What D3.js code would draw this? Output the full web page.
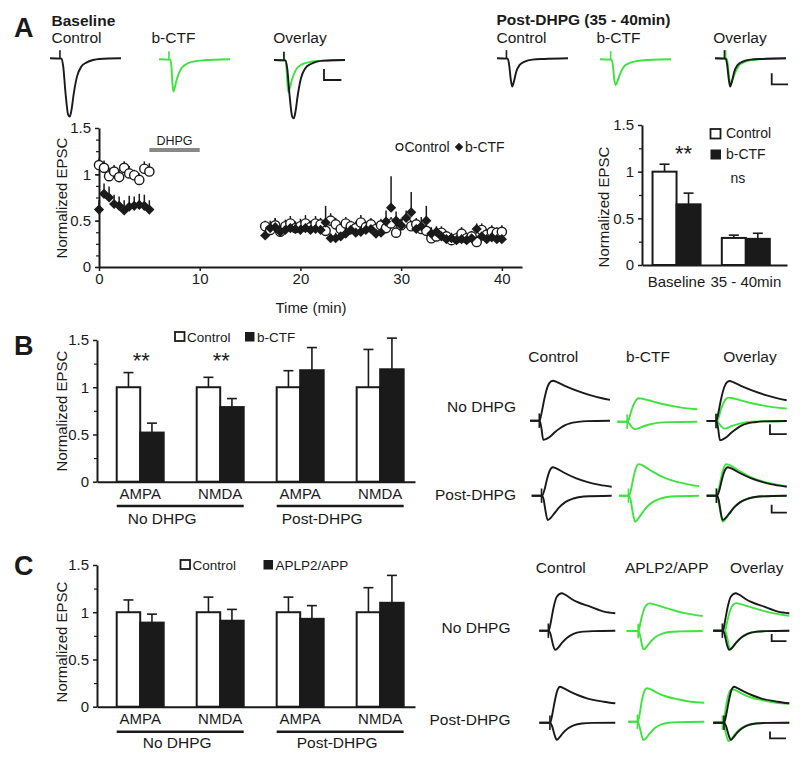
<!DOCTYPE html>
<html><head><meta charset="utf-8">
<script src="https://cdn.jsdelivr.net/npm/d3@7/dist/d3.min.js"></script>
<style>
body{margin:0;background:#fff;}
svg{display:block;}
</style></head><body>
<script>
// ================= DATA =================
// Panel A – time course (normalized EPSC, upper SEM)
const baseTimes = [0,0.5,1,1.5,2,2.5,3,3.5,4,4.5,5];
const ctlBase    = [1.10,1.07,0.98,1.03,0.97,1.07,1.01,0.99,0.94,1.06,1.03];
const ctlBaseErr = [0.07,0.08,0.09,0.07,0.08,0.07,0.08,0.06,0.07,0.08,0.09];
const ctfBase    = [0.62,0.79,0.75,0.68,0.66,0.61,0.65,0.66,0.67,0.66,0.62];
const ctfBaseErr = [0.10,0.11,0.12,0.10,0.10,0.11,0.12,0.10,0.12,0.12,0.10];
const postStart = 16.5, postEnd = 40, sampleInterval = 0.5;
const ctlPost = [0.44,0.40,0.45,0.38,0.44,0.47,0.42,0.44,0.47,0.43,
                 0.47,0.46,0.39,0.50,0.46,0.41,0.47,0.44,0.42,0.48,
                 0.43,0.46,0.41,0.45,0.42,0.47,0.37,0.45,0.48,0.44,
                 0.46,0.41,0.39,0.31,0.33,0.37,0.33,0.29,0.31,0.36,
                 0.31,0.33,0.27,0.40,0.35,0.38,0.37,0.38];
const ctlPostErr = [0.06,0.07,0.08,0.06,0.07,0.08,0.07,0.08,0.09,0.07,
                 0.08,0.07,0.06,0.08,0.07,0.06,0.07,0.06,0.07,0.08,
                 0.06,0.07,0.06,0.07,0.08,0.07,0.06,0.07,0.08,0.06,
                 0.07,0.06,0.07,0.05,0.06,0.07,0.06,0.05,0.06,0.07,
                 0.06,0.06,0.05,0.07,0.06,0.07,0.06,0.07];
const ctfPost = [0.34,0.42,0.43,0.38,0.40,0.42,0.41,0.40,0.42,0.40,
                 0.41,0.40,0.48,0.31,0.31,0.33,0.36,0.40,0.37,0.38,
                 0.40,0.41,0.36,0.37,0.49,0.64,0.50,0.45,0.53,0.59,
                 0.41,0.44,0.50,0.36,0.38,0.33,0.30,0.31,0.29,0.30,
                 0.29,0.31,0.41,0.33,0.30,0.32,0.30,0.30];
const ctfPostErr = [0.05,0.08,0.10,0.07,0.08,0.09,0.08,0.08,0.09,0.08,
                 0.09,0.08,0.18,0.05,0.06,0.06,0.07,0.08,0.07,0.07,
                 0.08,0.07,0.07,0.08,0.12,0.34,0.10,0.07,0.08,0.22,
                 0.08,0.10,0.16,0.07,0.06,0.06,0.05,0.06,0.05,0.06,
                 0.05,0.06,0.06,0.06,0.05,0.06,0.05,0.05];
const dhpgWindow = [5,10];
const timeTicks = [0,10,20,30,40];
const epscTicks = [0,0.5,1,1.5];

// Panel A – summary bars
const aGroups = ["Baseline","35 - 40min"];
const aSeries = ["Control","b-CTF"];
const aCtl = [1.00,0.29], aCtlErr = [0.08,0.03];
const aCtf = [0.65,0.28], aCtfErr = [0.12,0.06];

// Panels B/C – bars
const bcCats = ["AMPA","NMDA","AMPA","NMDA"];
const bcConds = ["No DHPG","Post-DHPG"];
const bCtl = [1,1,1,1],          bCtlErr = [0.155,0.105,0.175,0.40];
const bCtf = [0.52,0.79,1.18,1.19], bCtfErr = [0.10,0.09,0.24,0.33];
const cCtl = [1,1,1,1],          cCtlErr = [0.13,0.16,0.16,0.26];
const cApp = [0.89,0.91,0.93,1.10], cAppErr = [0.09,0.12,0.14,0.29];

// Example traces: [time (0-100 a.u.), amplitude (a.u.)]
const trA = {
  baseCtl: {art:14, pts:[[0,0],[16.3,-0.006],[18.6,-0.14],[21.9,-0.6],[25.6,-0.97],[27.9,-1],[30.2,-0.89],[33.5,-0.6],[38.1,-0.31],[44.2,-0.14],[51.2,-0.074],[60.5,-0.029],[69.8,-0.011],[100,0]]},
  baseCtf: {art:14, pts:[[0,0],[16,-0.006],[17.5,-0.126],[18.9,-0.41],[20.3,-0.554],[22.2,-0.48],[25.5,-0.326],[31.6,-0.154],[38.7,-0.08],[48.1,-0.04],[62.3,-0.017],[100,0]]},
  postCtl: {art:13.3, pts:[[0,0],[15.2,-0.006],[17.1,-0.114],[19.5,-0.37],[21.4,-0.486],[23.8,-0.4],[27.1,-0.229],[31.9,-0.114],[39,-0.057],[50,-0.023],[66.7,-0.011],[100,0]]},
  postCtf: {art:15, pts:[[0,0],[16.5,-0.006],[18.3,-0.126],[20.2,-0.354],[22.1,-0.44],[24.8,-0.366],[28.6,-0.24],[33.7,-0.126],[40.7,-0.069],[52.3,-0.029],[68.6,-0.011],[100,0]]}
};
const trB = {
  ndCtl: {art:11.6,
    nmda:[[0,0],[12,0],[14,0.15],[18,0.55],[22,0.85],[26,0.98],[29,1.0],[33,0.97],[45,0.86],[60,0.74],[75,0.64],[90,0.56],[100,0.52]],
    ampa:[[0,0],[12,0],[14,-0.15],[16.6,-0.48],[20,-0.46],[25,-0.40],[31,-0.29],[37.5,-0.19],[44,-0.11],[50,-0.065],[60,-0.03],[71,-0.01],[100,0]]},
  ndExp: {art:12.3,
    nmda:[[0,0],[13,0],[15,0.1],[18,0.3],[21,0.45],[24,0.55],[27,0.585],[31,0.575],[40,0.53],[55,0.45],[70,0.39],[85,0.34],[100,0.31]],
    ampa:[[0,0],[13,0],[15,-0.05],[18,-0.13],[22,-0.19],[26,-0.17],[32,-0.12],[40,-0.07],[50,-0.03],[65,-0.01],[100,0]]},
  poCtl: {art:12.3,
    nmda:[[0,0],[13,0],[16,0.15],[19,0.4],[22,0.6],[26.5,0.71],[30,0.69],[40,0.58],[55,0.44],[70,0.34],[85,0.27],[100,0.225]],
    ampa:[[0,0],[13,0],[15,-0.1],[17,-0.35],[20,-0.61],[23,-0.57],[28,-0.45],[34,-0.3],[42,-0.16],[52,-0.07],[65,-0.02],[100,0]]},
  poExp: {art:11.8,
    nmda:[[0,0],[12.5,0],[15,0.15],[18,0.45],[21,0.68],[24.4,0.79],[28,0.77],[38,0.65],[52,0.49],[68,0.37],[85,0.29],[100,0.24]],
    ampa:[[0,0],[12.5,0],[14.5,-0.1],[17,-0.4],[20,-0.65],[23,-0.6],[28,-0.46],[34,-0.3],[42,-0.16],[52,-0.07],[65,-0.02],[100,0]]}
};
const trC = {
  ndCtl: {art:11.9,
    nmda:[[0,0],[12.5,0],[15,0.2],[19,0.6],[23,0.85],[29.5,0.935],[34,0.9],[42,0.8],[49,0.725],[67,0.6],[85,0.475],[100,0.435]],
    ampa:[[0,0],[12.5,0],[15,-0.1],[18,-0.35],[20.7,-0.48],[24,-0.44],[30,-0.3],[37,-0.17],[45,-0.08],[55,-0.03],[70,-0.01],[100,0]]},
  ndExp: {art:15.1,
    nmda:[[0,0],[15.5,0],[18,0.2],[22,0.5],[26,0.65],[30.4,0.69],[35,0.67],[44,0.62],[52,0.57],[65,0.5],[78,0.44],[100,0.375]],
    ampa:[[0,0],[15.5,0],[18,-0.15],[20.5,-0.38],[22.6,-0.46],[26,-0.4],[31,-0.28],[38,-0.15],[46,-0.07],[56,-0.025],[70,-0.01],[100,0]]},
  poCtl: {art:14,
    nmda:[[0,0],[14.5,0],[17,0.2],[21,0.6],[24,0.82],[27.3,0.9],[31,0.87],[40.5,0.775],[52,0.68],[62.6,0.61],[84.6,0.525],[100,0.485]],
    ampa:[[0,0],[14.5,0],[17,-0.1],[20,-0.3],[23,-0.43],[26,-0.38],[31,-0.26],[38,-0.14],[46,-0.06],[56,-0.02],[70,-0.005],[100,0]]},
  poExp: {art:12,
    nmda:[[0,0],[12.5,0],[15,0.2],[18,0.55],[21,0.76],[24.5,0.835],[28,0.82],[38,0.72],[50,0.63],[65,0.56],[82,0.5],[100,0.475]],
    ampa:[[0,0],[12.5,0],[14.5,-0.1],[17,-0.3],[20,-0.46],[23,-0.42],[28,-0.3],[35,-0.16],[43,-0.07],[53,-0.025],[68,-0.01],[100,0]]}
};

// ================= DRAWING =================
const FONT = "'Liberation Sans', Arial, sans-serif";
const INK = "#1a1a1a", GREEN = "#3fe33f";
const svg = d3.select("body").append("svg").attr("width",800).attr("height",758)
  .style("font-family", FONT);

function text(x,y,s,o={}) {
  return svg.append("text").attr("x",x).attr("y",y).text(s)
    .attr("font-size",o.fs||15).attr("font-weight",o.bold?"bold":"normal")
    .attr("text-anchor",o.anchor||"start").attr("fill",o.fill||INK);
}
function styleAxis(g, fs=15) {
  g.attr("font-family",FONT).attr("font-size",fs);
  g.select(".domain").attr("stroke",INK).attr("stroke-width",2);
  g.selectAll(".tick line").attr("stroke",INK).attr("stroke-width",1.5);
  g.selectAll(".tick text").attr("fill",INK);
}
function ylabel(x,y) {
  svg.append("text").attr("transform",`translate(${x},${y}) rotate(-90)`)
    .attr("text-anchor","middle").attr("font-size",15).attr("fill",INK).text("Normalized EPSC");
}

// Panel letters & headers
text(14,37,"A",{fs:27,bold:true});
text(14,355,"B",{fs:27,bold:true});
text(14,575,"C",{fs:27,bold:true});

// ---------- Panel A scatter ----------
const xA = d3.scaleLinear().domain([0,42]).range([99,522]);
const yA = d3.scaleLinear().domain([0,1.5]).range([267,128]);
{
  const gy = svg.append("g").attr("transform",`translate(${xA(0)},0)`)
    .call(d3.axisLeft(yA).tickValues(epscTicks).tickFormat(d=>String(d)).tickSize(4).tickPadding(4).tickSizeOuter(0));
  styleAxis(gy);
  svg.append("g").attr("transform",`translate(${xA(0)},0)`)
    .call(d3.axisLeft(yA).tickValues(d3.range(0,1.5,0.125)).tickFormat("").tickSize(3).tickSizeOuter(0))
    .call(g=>{g.select(".domain").remove(); g.selectAll("line").attr("stroke",INK).attr("stroke-width",1.2);});
  const gx = svg.append("g").attr("transform",`translate(0,${yA(0)})`)
    .call(d3.axisBottom(xA).tickValues(timeTicks).tickSize(4).tickPadding(2).tickSizeOuter(0));
  styleAxis(gx);
  text(311,313,"Time (min)",{fs:15,anchor:"middle"});
  ylabel(66.5,198);

  // DHPG application bar
  svg.append("line").attr("x1",xA(dhpgWindow[0])).attr("x2",xA(dhpgWindow[1]))
    .attr("y1",150).attr("y2",150).attr("stroke","#888").attr("stroke-width",4);
  text(xA((dhpgWindow[0]+dhpgWindow[1])/2),145,"DHPG",{fs:12.5,anchor:"middle"});

  const postTimes = d3.range(postStart, postEnd + sampleInterval/2, sampleInterval);
  const ctlPts = baseTimes.map((t,i)=>({t,v:ctlBase[i],e:ctlBaseErr[i]}))
    .concat(postTimes.map((t,i)=>({t,v:ctlPost[i],e:ctlPostErr[i]})));
  const ctfPts = baseTimes.map((t,i)=>({t,v:ctfBase[i],e:ctfBaseErr[i]}))
    .concat(postTimes.map((t,i)=>({t,v:ctfPost[i],e:ctfPostErr[i]})));
  const eb = svg.append("g").attr("stroke",INK).attr("stroke-width",1.5);
  eb.selectAll(".ec").data(ctlPts.concat(ctfPts)).join("line")
    .attr("x1",d=>xA(d.t)).attr("x2",d=>xA(d.t))
    .attr("y1",d=>yA(d.v)).attr("y2",d=>yA(d.v+d.e));
  svg.append("g").selectAll("circle").data(ctlPts).join("circle")
    .attr("cx",d=>xA(d.t)).attr("cy",d=>yA(d.v)).attr("r",4.6)
    .attr("fill","#fff").attr("stroke",INK).attr("stroke-width",1.4);
  const dia = d3.symbol(d3.symbolSquare,52);
  svg.append("g").selectAll("path").data(ctfPts).join("path")
    .attr("d",dia).attr("transform",d=>`translate(${xA(d.t)},${yA(d.v)}) rotate(45)`)
    .attr("fill",INK);

  // legend
  svg.append("circle").attr("cx",399.5).attr("cy",147).attr("r",3.4).attr("fill","#fff").attr("stroke",INK).attr("stroke-width",1.3);
  text(404.5,152,"Control",{fs:14});
  svg.append("path").attr("d",d3.symbol(d3.symbolSquare,36)).attr("transform","translate(459,147) rotate(45)").attr("fill",INK);
  text(465,152,"b-CTF",{fs:14});
}

// ---------- Panel A bars ----------
function errBar(g, cx, y0, y1, cap) {
  g.append("line").attr("x1",cx).attr("x2",cx).attr("y1",y0).attr("y2",y1);
  g.append("line").attr("x1",cx-cap/2).attr("x2",cx+cap/2).attr("y1",y1).attr("y2",y1);
}
{
  const x = d3.scaleBand().domain(aGroups).range([642,787]).paddingInner(0.307).paddingOuter(0.2).align(0.38);
  const xs = d3.scaleBand().domain(aSeries).range([0,x.bandwidth()]);
  const y = d3.scaleLinear().domain([0,1.5]).range([265,125]);
  const gy = svg.append("g").attr("transform",`translate(642,0)`)
    .call(d3.axisLeft(y).tickValues(epscTicks).tickFormat(d=>String(d)).tickSize(4).tickPadding(4).tickSizeOuter(0));
  styleAxis(gy);
  svg.append("g").attr("transform",`translate(642,0)`)
    .call(d3.axisLeft(y).tickValues(d3.range(0.25,1.5,0.5)).tickFormat("").tickSize(3).tickSizeOuter(0))
    .call(g=>{g.select(".domain").remove(); g.selectAll("line").attr("stroke",INK).attr("stroke-width",1.2);});
  const gx = svg.append("g").attr("transform",`translate(0,${y(0)})`)
    .call(d3.axisBottom(x).tickSize(0).tickPadding(11).tickSizeOuter(0));
  styleAxis(gx);
  const eg = svg.append("g").attr("stroke",INK).attr("stroke-width",1.6);
  const series = [[aCtl,aCtlErr,"#fff","Control"],[aCtf,aCtfErr,INK,"b-CTF"]];
  series.forEach(([vals,errs,fill,name])=>{
    aGroups.forEach((gname,i)=>{
      const bx = x(gname)+xs(name);
      errBar(eg, bx+xs.bandwidth()/2, y(vals[i]), y(vals[i]+errs[i]), 10);
      svg.append("rect").attr("x",bx).attr("y",y(vals[i])).attr("width",xs.bandwidth())
        .attr("height",y(0)-y(vals[i])).attr("fill",fill).attr("stroke",INK).attr("stroke-width",2);
    });
  });
  text(x("Baseline")+x.bandwidth()/2+7,161,"**",{fs:22,anchor:"middle"});
  text(x("35 - 40min")+x.bandwidth()/2-8,183,"ns",{fs:14,anchor:"middle"});
  ylabel(608.5,207);
  svg.append("rect").attr("x",710.5).attr("y",129).attr("width",10).attr("height",9.5).attr("fill","#fff").attr("stroke",INK).attr("stroke-width",1.8);
  text(726,138,"Control",{fs:14});
  svg.append("rect").attr("x",710.5).attr("y",149.5).attr("width",10.5).attr("height",10).attr("fill",INK);
  text(726,159,"b-CTF",{fs:14});
}

// ---------- Panels B & C bars ----------
function barPanel(y0, yTop, ctl, ctlErr, exp, expErr, expName, lineY, labelY, labelShift, legend, stars) {
  const idx = d3.range(bcCats.length);
  const x = d3.scaleBand().domain(idx).range([97,415]).paddingInner(0.4125).paddingOuter(0.194).align(0.635);
  const xs = d3.scaleBand().domain(["ctl","exp"]).range([0,x.bandwidth()]);
  const y = d3.scaleLinear().domain([0,1.5]).range([y0,yTop]);
  const gy = svg.append("g").attr("transform",`translate(97,0)`)
    .call(d3.axisLeft(y).tickValues(epscTicks).tickFormat(d=>String(d)).tickSize(4).tickPadding(4).tickSizeOuter(0));
  styleAxis(gy);
  svg.append("g").attr("transform",`translate(97,0)`)
    .call(d3.axisLeft(y).tickValues(d3.range(0.25,1.5,0.5)).tickFormat("").tickSize(3).tickSizeOuter(0))
    .call(g=>{g.select(".domain").remove(); g.selectAll("line").attr("stroke",INK).attr("stroke-width",1.2);});
  const gx = svg.append("g").attr("transform",`translate(0,${y(0)})`)
    .call(d3.axisBottom(x).tickSize(0).tickPadding(7).tickSizeOuter(0).tickFormat(i=>bcCats[i]));
  styleAxis(gx);
  const eg = svg.append("g").attr("stroke",INK).attr("stroke-width",1.6);
  [[ctl,ctlErr,"#fff","ctl"],[exp,expErr,INK,"exp"]].forEach(([vals,errs,fill,k])=>{
    idx.forEach(i=>{
      const bx = x(i)+xs(k);
      errBar(eg, bx+xs.bandwidth()/2, y(vals[i]), y(vals[i]+errs[i]), 10);
      svg.append("rect").attr("x",bx).attr("y",y(vals[i])).attr("width",xs.bandwidth())
        .attr("height",y(0)-y(vals[i])).attr("fill",fill).attr("stroke",INK).attr("stroke-width",2);
    });
  });
  bcConds.forEach((c,j)=>{
    const xa = x(2*j), xb = x(2*j+1)+x.bandwidth();
    svg.append("line").attr("x1",xa).attr("x2",xb).attr("y1",lineY).attr("y2",lineY)
      .attr("stroke",INK).attr("stroke-width",2.5);
    text((xa+xb)/2+labelShift,labelY,c,{fs:15.5,anchor:"middle"});
  });
  stars.forEach(i=>text(x(i)+x.bandwidth()/2+1,y(1.5)+28,"**",{fs:22,anchor:"middle"}));
  // legend
  svg.append("rect").attr("x",legend[0]).attr("y",legend[1]).attr("width",9.5).attr("height",9).attr("fill","#fff").attr("stroke",INK).attr("stroke-width",1.8);
  text(legend[0]+12,legend[1]+9.8,"Control",{fs:13.5});
  svg.append("rect").attr("x",legend[2]).attr("y",legend[1]).attr("width",9.5).attr("height",9.5).attr("fill",INK);
  text(legend[2]+12,legend[1]+9.8,expName,{fs:13.5});
}
barPanel(481.7,340,bCtl,bCtlErr,bCtf,bCtfErr,"b-CTF",506,523.5,-18,[175,332,245],[0,1]);
ylabel(66.5,411);
barPanel(706.7,565,cCtl,cCtlErr,cApp,cAppErr,"APLP2/APP",731.7,748,-3,[180.5,560,263.5],[]);
ylabel(66.5,642);

// ---------- Traces ----------
const lineGen = (x,y)=>d3.line(d=>x(d[0]),d=>y(d[1])).curve(d3.curveMonotoneX);
function cellScales(cx, cy, w, ppu) {
  return [d3.scaleLinear([0,100],[cx,cx+w]), d3.scaleLinear([0,1],[cy,cy-ppu])];
}
function drawA(cell, tr, color) {
  const [x,y] = cellScales(cell[0],cell[1],71,58.3);
  svg.append("path").attr("d",lineGen(x,y)(tr.pts)).attr("fill","none").attr("stroke",color).attr("stroke-width",1.9).attr("stroke-linejoin","round");
  svg.append("line").attr("x1",x(tr.art)).attr("x2",x(tr.art)).attr("y1",y(0)).attr("y2",y(0.14)).attr("stroke",color).attr("stroke-width",1.6);
}
function drawBC(cell, w, tr, color) {
  const [x,y] = cellScales(cell[0],cell[1],w,40);
  const gen = lineGen(x,y);
  [tr.ampa, tr.nmda].forEach(p=>svg.append("path").attr("d",gen(p)).attr("fill","none")
    .attr("stroke",color).attr("stroke-width",1.9).attr("stroke-linejoin","round"));
  svg.append("line").attr("x1",x(tr.art)).attr("x2",x(tr.art)).attr("y1",y(-0.18)).attr("y2",y(0.18)).attr("stroke",color).attr("stroke-width",1.6);
}
function scaleBar(cell, w, ppu, t, a, dt, da) {
  const [x,y] = cellScales(cell[0],cell[1],w,ppu);
  svg.append("path").attr("d",`M${x(t)},${y(a+da)}V${y(a)}H${x(t+dt)}`)
    .attr("fill","none").attr("stroke",INK).attr("stroke-width",1.8);
}

// Panel A trace headers
text(51.5,25.5,"Baseline",{fs:15.5,bold:true});
text(51.5,43.3,"Control",{fs:15.5});
text(151.5,43.3,"b-CTF",{fs:15.5});
text(273.3,43.3,"Overlay",{fs:15.5});
text(496.5,24.5,"Post-DHPG (35 - 40min)",{fs:15.5,bold:true});
text(496.5,43.3,"Control",{fs:15.5});
text(596.5,43.3,"b-CTF",{fs:15.5});
text(713.3,43.3,"Overlay",{fs:15.5});
drawA([50,58.3],trA.baseCtl,INK);
drawA([159,59.3],trA.baseCtf,GREEN);
drawA([274,60],trA.baseCtf,GREEN);
drawA([274,60],trA.baseCtl,INK);
scaleBar([274,60],71,58.3,70.4,-0.343,24.5,0.19);
drawA([497,58.3],trA.postCtl,INK);
drawA([600,59.3],trA.postCtf,GREEN);
drawA([715,58.3],trA.postCtf,GREEN);
drawA([715,58.3],trA.postCtl,INK);
scaleBar([715,58.3],71,58.3,79.9,-0.446,23,0.19);

// Panel B traces
text(553.3,362,"Control",{fs:15.5,anchor:"middle"});
text(648,362,"b-CTF",{fs:15.5,anchor:"middle"});
text(750,362,"Overlay",{fs:15.5,anchor:"middle"});
text(516,411.7,"No DHPG",{fs:15.5,anchor:"end"});
text(516,500,"Post-DHPG",{fs:15.5,anchor:"end"});
drawBC([530,420.7],80,trB.ndCtl,INK);
drawBC([617.3,421.7],80,trB.ndExp,GREEN);
drawBC([706.7,421],80,trB.ndExp,GREEN);
drawBC([706.7,421],80,trB.ndCtl,INK);
scaleBar([706.7,421],80,40,79.1,-0.33,21,0.25);
drawBC([531.7,495.7],80,trB.poCtl,INK);
drawBC([619,495.7],80,trB.poExp,GREEN);
drawBC([706.7,495.7],80,trB.poExp,GREEN);
drawBC([706.7,495.7],80,trB.poCtl,INK);
scaleBar([706.7,495.7],80,40,81.2,-0.425,19,0.2);

// Panel C traces
text(560.8,573,"Control",{fs:15.5,anchor:"middle"});
text(666.7,573,"APLP2/APP",{fs:15.5,anchor:"middle"});
text(756.7,573,"Overlay",{fs:15.5,anchor:"middle"});
text(510.5,633,"No DHPG",{fs:15.5,anchor:"end"});
text(510.5,725,"Post-DHPG",{fs:15.5,anchor:"end"});
drawBC([539.3,630.7],76,trC.ndCtl,INK);
drawBC([626.7,631],76,trC.ndExp,GREEN);
drawBC([713.3,630.7],76,trC.ndExp,GREEN);
drawBC([713.3,630.7],76,trC.ndCtl,INK);
scaleBar([713.3,630.7],76,40,76.8,-0.26,19.5,0.18);
drawBC([539.3,722.7],76,trC.poCtl,INK);
drawBC([628.3,721.7],76,trC.poExp,GREEN);
drawBC([713.3,722.7],76,trC.poExp,GREEN);
drawBC([713.3,722.7],76,trC.poCtl,INK);
scaleBar([713.3,722.7],76,40,74.6,-0.39,21,0.17);
</script>
</body></html>
